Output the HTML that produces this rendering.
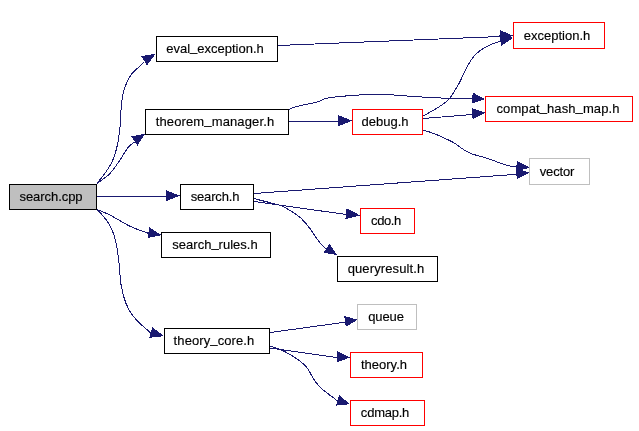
<!DOCTYPE html><html><head><meta charset="utf-8"><style>
html,body{margin:0;padding:0;background:#fff;width:639px;height:431px;overflow:hidden;position:relative}
.n{position:absolute;box-sizing:border-box;border:1px solid #000}
.t{position:absolute;font-family:"Liberation Sans",sans-serif;font-size:13px;line-height:24px;height:24px;color:#000;white-space:nowrap;transform:translateX(-50%);will-change:transform;-webkit-text-stroke:0.15px #000}
svg{position:absolute;left:0;top:0}
.u{position:relative;top:-2px}
</style></head><body>
<svg width="639" height="431" viewBox="0 0 639 431" shape-rendering="crispEdges">
<path d="M97.0,183.5 C102.6,175.6 108.9,170.6 113.6,158.2 C118.8,144.4 118.3,138.4 120.1,126.4 C121.6,116.5 118.4,91.6 132.3,73.2 L144.4,61.6" fill="none" stroke="#191970" stroke-width="1"/>
<polygon points="146.96,65.50 155.90,53.60 141.24,56.10" fill="#191970"/>
<path d="M97.0,183.5 C106.8,176.4 108.4,176.3 115.8,166.1 C128.3,148.6 124.8,149.0 134.7,141.8" fill="none" stroke="#191970" stroke-width="1"/>
<polygon points="137.49,145.55 145.00,133.80 131.31,136.45" fill="#191970"/>
<path d="M97,196.5 L166.2,196.5" fill="none" stroke="#191970" stroke-width="1"/>
<polygon points="165.90,201.20 180.20,195.70 165.90,190.20" fill="#191970"/>
<path d="M97.0,209.5 C107.9,213.2 116.7,218.5 125.0,223.6 C133.5,228.7 142.0,230.8 148.7,233.5" fill="none" stroke="#191970" stroke-width="1"/>
<polygon points="147.41,238.11 161.50,235.10 149.39,227.29" fill="#191970"/>
<path d="M97,209.5 C109.2,221.4 116.9,229.3 119.8,273.2 C122.8,317.4 141.6,323.3 151,333.3" fill="none" stroke="#191970" stroke-width="1"/>
<polygon points="149.25,337.80 164.20,336.20 152.15,327.20" fill="#191970"/>
<path d="M277.5,45.5 L500.5,36.5" fill="none" stroke="#191970" stroke-width="1"/>
<polygon points="500.20,41.20 513.20,35.70 500.20,30.20" fill="#191970"/>
<path d="M289,121.5 L338.5,121.5" fill="none" stroke="#191970" stroke-width="1"/>
<polygon points="338.20,126.20 352.30,120.70 338.20,115.20" fill="#191970"/>
<path d="M289.0,109.5 C294.7,104.7 318.2,103.9 322.6,99.7 C325.8,96.6 375.5,93.5 385.1,94.3 C394.7,95.1 446.7,98.9 472.5,98.8" fill="none" stroke="#191970" stroke-width="1"/>
<polygon points="471.69,103.48 485.20,99.20 472.71,92.52" fill="#191970"/>
<path d="M423.0,116.0 C433.1,110.6 446.0,103.9 450.4,97.4 C460.1,83.3 459.6,81.8 464.4,72.4 C469.0,63.4 473.4,48.4 500.5,41.3" fill="none" stroke="#191970" stroke-width="1"/>
<polygon points="501.36,45.88 513.20,37.70 499.04,35.12" fill="#191970"/>
<path d="M423,118.5 L472.5,114.5" fill="none" stroke="#191970" stroke-width="1"/>
<polygon points="472.62,119.18 485.20,112.70 471.78,108.22" fill="#191970"/>
<path d="M422.5,130.0 C436.3,133.4 445.8,138.6 453.0,142.3 C458.7,145.2 464.1,152.0 474.4,154.7 C505.5,162.8 496.8,164.7 516.7,167.0" fill="none" stroke="#191970" stroke-width="1"/>
<polygon points="515.78,171.67 529.70,167.70 517.02,160.73" fill="#191970"/>
<path d="M254,193.5 L516.7,174.3" fill="none" stroke="#191970" stroke-width="1"/>
<polygon points="516.73,178.99 529.70,172.70 516.07,168.01" fill="#191970"/>
<path d="M254,201.5 L346.3,214.5" fill="none" stroke="#191970" stroke-width="1"/>
<polygon points="345.35,219.16 360.20,215.40 346.65,208.24" fill="#191970"/>
<path d="M254.0,198.6 C282.9,206.2 279.9,203.6 296.6,214.7 C312.3,225.1 317.7,246.1 326.9,249.0" fill="none" stroke="#191970" stroke-width="1"/>
<polygon points="323.59,252.80 337.00,255.00 329.61,243.60" fill="#191970"/>
<path d="M270,332.5 L345.3,322.2" fill="none" stroke="#191970" stroke-width="1"/>
<polygon points="345.69,326.86 357.70,319.80 344.31,315.94" fill="#191970"/>
<path d="M270,348 L337.5,357.7" fill="none" stroke="#191970" stroke-width="1"/>
<polygon points="336.99,362.40 350.20,357.40 337.41,351.40" fill="#191970"/>
<path d="M270.0,346.1 C286.1,349.9 305.4,363.3 309.2,371.0 C317.9,389.0 325.4,391.1 337.8,401.2" fill="none" stroke="#191970" stroke-width="1"/>
<polygon points="335.92,405.67 350.20,404.20 339.08,395.13" fill="#191970"/>
</svg>
<div class="n" style="left:9px;top:184px;width:88px;height:26px;border-color:#000;background:#bfbfbf"></div>
<div class="n" style="left:156px;top:36px;width:122px;height:26px;border-color:#000;background:#fff"></div>
<div class="n" style="left:145px;top:109px;width:144px;height:26px;border-color:#000;background:#fff"></div>
<div class="n" style="left:180px;top:184px;width:74px;height:26px;border-color:#000;background:#fff"></div>
<div class="n" style="left:161px;top:232px;width:110px;height:26px;border-color:#000;background:#fff"></div>
<div class="n" style="left:164px;top:328px;width:106px;height:26px;border-color:#000;background:#fff"></div>
<div class="n" style="left:513px;top:22px;width:92px;height:27px;border-color:#f00;background:#fff"></div>
<div class="n" style="left:485px;top:96px;width:148px;height:26px;border-color:#f00;background:#fff"></div>
<div class="n" style="left:352px;top:109px;width:71px;height:26px;border-color:#f00;background:#fff"></div>
<div class="n" style="left:529px;top:158px;width:61px;height:27px;border-color:#bfbfbf;background:#fff"></div>
<div class="n" style="left:360px;top:208px;width:55px;height:26px;border-color:#f00;background:#fff"></div>
<div class="n" style="left:337px;top:256px;width:101px;height:26px;border-color:#000;background:#fff"></div>
<div class="n" style="left:357px;top:304px;width:60px;height:26px;border-color:#bfbfbf;background:#fff"></div>
<div class="n" style="left:350px;top:352px;width:73px;height:26px;border-color:#f00;background:#fff"></div>
<div class="n" style="left:350px;top:400px;width:75px;height:26px;border-color:#f00;background:#fff"></div>
<div class="t" style="left:50.88px;top:185px;letter-spacing:-0.05px">search.cpp</div>
<div class="t" style="left:214.80px;top:37px;letter-spacing:0px">eval<span class="u">_</span>exception.h</div>
<div class="t" style="left:214.51px;top:110px;letter-spacing:0.13px">theorem<span class="u">_</span>manager.h</div>
<div class="t" style="left:214.73px;top:185px;letter-spacing:-0.14px">search.h</div>
<div class="t" style="left:215.00px;top:233px;letter-spacing:0px">search<span class="u">_</span>rules.h</div>
<div class="t" style="left:214.35px;top:329px;letter-spacing:0.1px">theory<span class="u">_</span>core.h</div>
<div class="t" style="left:557.30px;top:24px;letter-spacing:0px">exception.h</div>
<div class="t" style="left:558.00px;top:97px;letter-spacing:0.09px">compat<span class="u">_</span>hash<span class="u">_</span>map.h</div>
<div class="t" style="left:385.40px;top:110px;letter-spacing:0px">debug.h</div>
<div class="t" style="left:556.68px;top:160px;letter-spacing:-0.14px">vector</div>
<div class="t" style="left:385.87px;top:209px;letter-spacing:-0.37px">cdo.h</div>
<div class="t" style="left:385.61px;top:257px;letter-spacing:0.12px">queryresult.h</div>
<div class="t" style="left:386.20px;top:305px;letter-spacing:-0.1px">queue</div>
<div class="t" style="left:384.35px;top:353px;letter-spacing:0px">theory.h</div>
<div class="t" style="left:384.99px;top:401px;letter-spacing:-0.23px">cdmap.h</div>
</body></html>
